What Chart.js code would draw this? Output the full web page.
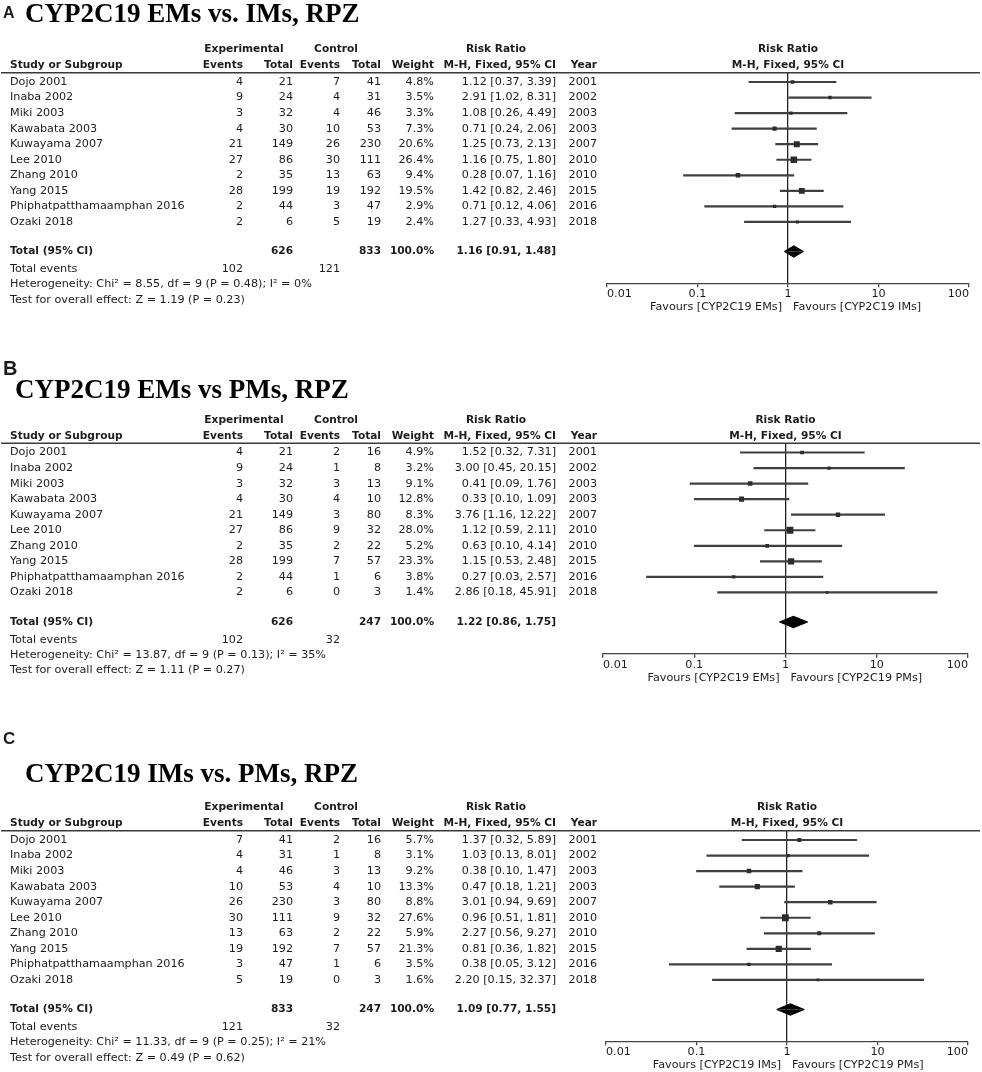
<!DOCTYPE html>
<html>
<head>
<meta charset="utf-8">
<title>CYP2C19 forest plots, RPZ</title>
<script src="https://cdn.jsdelivr.net/npm/chart.js@4.4.1/dist/chart.umd.min.js"></script>
<style>
  html, body { margin: 0; padding: 0; background: #fff; }
  #wrap { position: relative; width: 982px; height: 1072px; overflow: hidden; }
  #wrap canvas { position: absolute; left: 0; top: 0; }
</style>
</head>
<body>
<div id="wrap">
  <canvas id="chartA" width="982" height="1072"></canvas>
  <canvas id="chartB" width="982" height="1072"></canvas>
  <canvas id="chartC" width="982" height="1072"></canvas>
</div>
<script>
// Studies (same ten in every comparison)
const studies = ['Dojo 2001', 'Inaba 2002', 'Miki 2003', 'Kawabata 2003', 'Kuwayama 2007',
                 'Lee 2010', 'Zhang 2010', 'Yang 2015', 'Phiphatpatthamaamphan 2016', 'Ozaki 2018'];
const years = [2001, 2002, 2003, 2003, 2007, 2010, 2010, 2015, 2016, 2018];
const axisTicks = [0.01, 0.1, 1, 10, 100];

// A: EMs vs. IMs
const expEventsA = [4, 9, 3, 4, 21, 27, 2, 28, 2, 2];
const expTotalA  = [21, 24, 32, 30, 149, 86, 35, 199, 44, 6];
const ctlEventsA = [7, 4, 4, 10, 26, 30, 13, 19, 3, 5];
const ctlTotalA  = [41, 31, 46, 53, 230, 111, 63, 192, 47, 19];
const weightA = [4.8, 3.5, 3.3, 7.3, 20.6, 26.4, 9.4, 19.5, 2.9, 2.4];
const rrA    = [1.12, 2.91, 1.08, 0.71, 1.25, 1.16, 0.28, 1.42, 0.71, 1.27];
const lowerA = [0.37, 1.02, 0.26, 0.24, 0.73, 0.75, 0.07, 0.82, 0.12, 0.33];
const upperA = [3.39, 8.31, 4.49, 2.06, 2.13, 1.80, 1.16, 2.46, 4.06, 4.93];
const pooledA = [1.16, 0.91, 1.48];   // RR, lower, upper
const totalsA = [626, 833];
const eventsA = [102, 121];
const heteroA = 'Heterogeneity: Chi\u00b2 = 8.55, df = 9 (P = 0.48); I\u00b2 = 0%';
const overallA = 'Test for overall effect: Z = 1.19 (P = 0.23)';
const favoursA = ['Favours [CYP2C19 EMs]', 'Favours [CYP2C19 IMs]'];

// B: EMs vs PMs
const expEventsB = [4, 9, 3, 4, 21, 27, 2, 28, 2, 2];
const expTotalB  = [21, 24, 32, 30, 149, 86, 35, 199, 44, 6];
const ctlEventsB = [2, 1, 3, 4, 3, 9, 2, 7, 1, 0];
const ctlTotalB  = [16, 8, 13, 10, 80, 32, 22, 57, 6, 3];
const weightB = [4.9, 3.2, 9.1, 12.8, 8.3, 28.0, 5.2, 23.3, 3.8, 1.4];
const rrB    = [1.52, 3.00, 0.41, 0.33, 3.76, 1.12, 0.63, 1.15, 0.27, 2.86];
const lowerB = [0.32, 0.45, 0.09, 0.10, 1.16, 0.59, 0.10, 0.53, 0.03, 0.18];
const upperB = [7.31, 20.15, 1.76, 1.09, 12.22, 2.11, 4.14, 2.48, 2.57, 45.91];
const pooledB = [1.22, 0.86, 1.75];
const totalsB = [626, 247];
const eventsB = [102, 32];
const heteroB = 'Heterogeneity: Chi\u00b2 = 13.87, df = 9 (P = 0.13); I\u00b2 = 35%';
const overallB = 'Test for overall effect: Z = 1.11 (P = 0.27)';
const favoursB = ['Favours [CYP2C19 EMs]', 'Favours [CYP2C19 PMs]'];

// C: IMs vs. PMs
const expEventsC = [7, 4, 4, 10, 26, 30, 13, 19, 3, 5];
const expTotalC  = [41, 31, 46, 53, 230, 111, 63, 192, 47, 19];
const ctlEventsC = [2, 1, 3, 4, 3, 9, 2, 7, 1, 0];
const ctlTotalC  = [16, 8, 13, 10, 80, 32, 22, 57, 6, 3];
const weightC = [5.7, 3.1, 9.2, 13.3, 8.8, 27.6, 5.9, 21.3, 3.5, 1.6];
const rrC    = [1.37, 1.03, 0.38, 0.47, 3.01, 0.96, 2.27, 0.81, 0.38, 2.20];
const lowerC = [0.32, 0.13, 0.10, 0.18, 0.94, 0.51, 0.56, 0.36, 0.05, 0.15];
const upperC = [5.89, 8.01, 1.47, 1.21, 9.69, 1.81, 9.27, 1.82, 3.12, 32.37];
const pooledC = [1.09, 0.77, 1.55];
const totalsC = [833, 247];
const eventsC = [121, 32];
const heteroC = 'Heterogeneity: Chi\u00b2 = 11.33, df = 9 (P = 0.25); I\u00b2 = 21%';
const overallC = 'Test for overall effect: Z = 0.49 (P = 0.62)';
const favoursC = ['Favours [CYP2C19 IMs]', 'Favours [CYP2C19 PMs]'];

// Layout (rows are in y-scale units, one unit per study row)
const ROW_H = 15.55;
const Y_MIN = -0.6, Y_MAX = 12.95;
const AXIS_H = 22;
const HEAD1_ROW = -2.1, HEAD2_ROW = -1.05;
const TOTAL_ROW = 10.9, EVENTS_ROW = 12.05, HET_ROW = 13.0, TEST_ROW = 14.0;
const DIA_H = 0.37;
const COL = { study: 10, expEv: 243, expTot: 293, ctlEv: 340, ctlTot: 381, weight: 434, rr: 556, year: 597 };
const FONT = '"DejaVu Sans", Verdana, sans-serif';
const TEXT_COLOR = '#1c1c1c';

Chart.defaults.font.family = FONT;
Chart.defaults.font.size = 11.2;
Chart.defaults.color = TEXT_COLOR;

const panels = [
  { id: 'chartA', letter: 'A', letterX: 3, letterBase: 18, letterSize: 16,
    title: 'CYP2C19 EMs vs. IMs, RPZ', titleX: 25, titleBase: 22,
    firstRowY: 82, axisLeft: 607, axisRight: 969,
    expEvents: expEventsA, expTotal: expTotalA, ctlEvents: ctlEventsA, ctlTotal: ctlTotalA,
    weight: weightA, rr: rrA, lower: lowerA, upper: upperA, pooled: pooledA,
    totals: totalsA, events: eventsA, hetero: heteroA, overall: overallA, favours: favoursA },
  { id: 'chartB', letter: 'B', letterX: 3, letterBase: 375, letterSize: 20,
    title: 'CYP2C19 EMs vs PMs, RPZ', titleX: 15, titleBase: 398,
    firstRowY: 452.5, axisLeft: 603, axisRight: 968,
    expEvents: expEventsB, expTotal: expTotalB, ctlEvents: ctlEventsB, ctlTotal: ctlTotalB,
    weight: weightB, rr: rrB, lower: lowerB, upper: upperB, pooled: pooledB,
    totals: totalsB, events: eventsB, hetero: heteroB, overall: overallB, favours: favoursB },
  { id: 'chartC', letter: 'C', letterX: 3, letterBase: 744, letterSize: 17,
    title: 'CYP2C19 IMs vs. PMs, RPZ', titleX: 25, titleBase: 782,
    firstRowY: 840, axisLeft: 606, axisRight: 968,
    expEvents: expEventsC, expTotal: expTotalC, ctlEvents: ctlEventsC, ctlTotal: ctlTotalC,
    weight: weightC, rr: rrC, lower: lowerC, upper: upperC, pooled: pooledC,
    totals: totalsC, events: eventsC, hetero: heteroC, overall: overallC, favours: favoursC }
];

function ciText(est, lo, hi) {
  return est.toFixed(2) + ' [' + lo.toFixed(2) + ', ' + hi.toFixed(2) + ']';
}

// Table text, titles and header rule, positioned with the chart's y scale
const tablePlugin = {
  id: 'forestTable',
  afterDraw(chart) {
    const p = chart.config.options.plugins.forestTable.panel;
    const ctx = chart.ctx;
    const ys = chart.scales.y;
    const xs = chart.scales.x;
    const area = chart.chartArea;
    const rowY = r => ys.getPixelForValue(r);
    const x1 = xs.getPixelForValue(1);

    function txt(s, x, y, align, bold) {
      ctx.font = bold ? 'bold 10.6px ' + FONT : '11.2px ' + FONT;
      ctx.textAlign = align;
      ctx.fillText(String(s), x, y);
    }

    ctx.save();
    ctx.fillStyle = TEXT_COLOR;

    // panel letter and title
    ctx.textBaseline = 'alphabetic';
    ctx.textAlign = 'left';
    ctx.font = 'bold ' + p.letterSize + 'px "Liberation Sans", Arial, sans-serif';
    ctx.fillText(p.letter, p.letterX, p.letterBase);
    ctx.font = 'bold 27px "Liberation Serif", "Times New Roman", serif';
    ctx.fillStyle = '#000';
    ctx.fillText(p.title, p.titleX, p.titleBase);
    ctx.fillStyle = TEXT_COLOR;

    ctx.textBaseline = 'middle';
    // header
    let y = rowY(HEAD1_ROW);
    txt('Experimental', 244, y, 'center', true);
    txt('Control', 336, y, 'center', true);
    txt('Risk Ratio', 496, y, 'center', true);
    txt('Risk Ratio', x1, y, 'center', true);
    y = rowY(HEAD2_ROW);
    txt('Study or Subgroup', COL.study, y, 'left', true);
    txt('Events', COL.expEv, y, 'right', true);
    txt('Total', COL.expTot, y, 'right', true);
    txt('Events', COL.ctlEv, y, 'right', true);
    txt('Total', COL.ctlTot, y, 'right', true);
    txt('Weight', COL.weight, y, 'right', true);
    txt('M-H, Fixed, 95% CI', COL.rr, y, 'right', true);
    txt('Year', COL.year, y, 'right', true);
    txt('M-H, Fixed, 95% CI', x1, y, 'center', true);

    ctx.strokeStyle = '#3a3a3a';
    ctx.lineWidth = 1.5;
    ctx.beginPath();
    ctx.moveTo(1, area.top);
    ctx.lineTo(980, area.top);
    ctx.stroke();

    // study rows
    studies.forEach((name, i) => {
      const yy = rowY(i);
      txt(name, COL.study, yy, 'left');
      txt(p.expEvents[i], COL.expEv, yy, 'right');
      txt(p.expTotal[i], COL.expTot, yy, 'right');
      txt(p.ctlEvents[i], COL.ctlEv, yy, 'right');
      txt(p.ctlTotal[i], COL.ctlTot, yy, 'right');
      txt(p.weight[i].toFixed(1) + '%', COL.weight, yy, 'right');
      txt(ciText(p.rr[i], p.lower[i], p.upper[i]), COL.rr, yy, 'right');
      txt(years[i], COL.year, yy, 'right');
    });

    // totals
    y = rowY(TOTAL_ROW);
    txt('Total (95% CI)', COL.study, y, 'left', true);
    txt(p.totals[0], COL.expTot, y, 'right', true);
    txt(p.totals[1], COL.ctlTot, y, 'right', true);
    txt('100.0%', COL.weight, y, 'right', true);
    txt(ciText(p.pooled[0], p.pooled[1], p.pooled[2]), COL.rr, y, 'right', true);
    y = rowY(EVENTS_ROW);
    txt('Total events', COL.study, y, 'left');
    txt(p.events[0], COL.expEv, y, 'right');
    txt(p.events[1], COL.ctlEv, y, 'right');
    txt(p.hetero, COL.study, rowY(HET_ROW), 'left');
    txt(p.overall, COL.study, rowY(TEST_ROW), 'left');

    // favours labels under the axis
    y = area.bottom + 24;
    txt(p.favours[0], x1 - 6, y, 'right');
    txt(p.favours[1], x1 + 5, y, 'left');
    ctx.restore();
  }
};

function makePanel(p) {
  const areaTop = p.firstRowY + Y_MIN * ROW_H;
  const areaBottom = areaTop + (Y_MAX - Y_MIN) * ROW_H;
  const squares = p.rr.map((v, i) => ({ x: v, y: i }));
  const ciBars = p.lower.map((lo, i) => ({ x: [lo, p.upper[i]], y: i }));
  const diamondTop = [
    { x: p.pooled[1], y: TOTAL_ROW }, { x: p.pooled[0], y: TOTAL_ROW - DIA_H }, { x: p.pooled[2], y: TOTAL_ROW }
  ];
  const diamondBottom = [
    { x: p.pooled[1], y: TOTAL_ROW }, { x: p.pooled[0], y: TOTAL_ROW + DIA_H }, { x: p.pooled[2], y: TOTAL_ROW }
  ];

  return new Chart(document.getElementById(p.id), {
    type: 'scatter',
    data: {
      datasets: [
        {
          label: 'Study RR',
          data: squares,
          order: 0,
          pointStyle: 'rect',
          pointRadius: p.weight.map(w => (1.5 + 1.0 * Math.sqrt(w)) / Math.SQRT2),
          backgroundColor: '#2c2c2c',
          borderWidth: 0
        },
        {
          type: 'bar',
          label: '95% CI',
          indexAxis: 'y',
          data: ciBars,
          order: 1,
          barThickness: 1.5,
          backgroundColor: '#404040',
          borderWidth: 0
        },
        {
          label: 'Pooled (upper)',
          data: diamondTop,
          order: 2,
          showLine: true,
          pointRadius: 0,
          borderWidth: 1,
          borderColor: '#000',
          backgroundColor: '#000',
          fill: { value: TOTAL_ROW }
        },
        {
          label: 'Pooled (lower)',
          data: diamondBottom,
          order: 2,
          showLine: true,
          pointRadius: 0,
          borderWidth: 1,
          borderColor: '#000',
          backgroundColor: '#000',
          fill: { value: TOTAL_ROW }
        }
      ]
    },
    options: {
      responsive: false,
      animation: false,
      events: [],
      layout: {
        padding: { left: p.axisLeft, right: 982 - p.axisRight, top: areaTop, bottom: 1072 - areaBottom - AXIS_H }
      },
      scales: {
        x: {
          type: 'logarithmic',
          position: 'bottom',
          min: 0.01,
          max: 100,
          offset: false,
          afterBuildTicks: axis => { axis.ticks = axisTicks.map(v => ({ value: v })); },
          afterFit: scale => { scale.height = AXIS_H; },
          ticks: {
            autoSkip: false,
            maxRotation: 0,
            align: 'inner',
            padding: 0,
            color: TEXT_COLOR,
            callback: v => String(v)
          },
          grid: {
            offset: false,
            drawTicks: true,
            tickLength: 4,
            tickColor: '#444',
            tickWidth: 1.3,
            lineWidth: 1.3,
            color: c => (c.tick && c.tick.value === 1) ? '#222' : 'rgba(0,0,0,0)'
          },
          border: { display: true, color: '#444', width: 1.3 }
        },
        y: {
          type: 'linear',
          display: false,
          reverse: true,
          min: Y_MIN,
          max: Y_MAX,
          offset: false,
          grid: { offset: false }
        }
      },
      plugins: {
        legend: { display: false },
        tooltip: { enabled: false },
        forestTable: { panel: p }
      }
    },
    plugins: [tablePlugin]
  });
}

panels.forEach(makePanel);
</script>
</body>
</html>
